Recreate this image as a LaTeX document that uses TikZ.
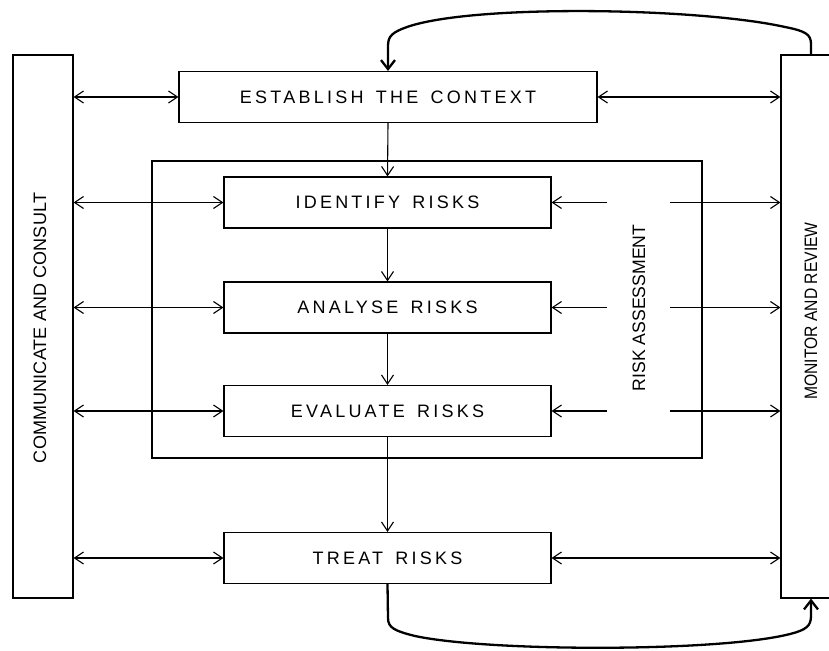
\documentclass[tikz,border=0pt]{standalone}
\usepackage{fontspec}
\usetikzlibrary{arrows.meta}
\newfontfamily\labfont{Liberation Sans}
\begin{document}
\begin{tikzpicture}[x=1pt,y=-1pt,
  boxstyle/.style={draw, line width=1.1pt, rectangle, inner sep=0pt, anchor=center},
  htext/.style={font=\labfont\fontsize{18}{21}\selectfont\addfontfeature{LetterSpace=18}},
  conn/.style={line width=1.1pt, -{Straight Barb[length=9pt,width=12pt]}},
  dconn/.style={line width=1.1pt, {Straight Barb[length=9pt,width=12pt]}-{Straight Barb[length=9pt,width=12pt]}},
  loopline/.style={line width=2.3pt, -{Straight Barb[length=9pt,width=14pt]}}
]
\useasboundingbox (0,0) rectangle (829,650);
% side boxes
\node[boxstyle, minimum width=60pt, minimum height=543pt] (L) at (43,326.5) {};
\node[boxstyle, minimum width=60pt, minimum height=543pt] (R) at (811,326.5) {};
\node[rotate=90, font=\labfont\fontsize{18}{21}\selectfont\addfontfeature{LetterSpace=0.8}] (Ltxt) at (40,328) {COMMUNICATE AND CONSULT};
\node[rotate=90, font=\labfont\fontsize{18}{21}\selectfont] (Rtxt) at (811,311) {\scalebox{0.87}[1]{MONITOR AND REVIEW}};
% risk assessment frame
\node[boxstyle, minimum width=550pt, minimum height=297pt] (ra) at (427,309.5) {};
\node[rotate=90, font=\labfont\fontsize{18}{21}\selectfont] (ratxt) at (639,308) {\scalebox{0.98}[1]{RISK ASSESSMENT}};
% process boxes
\node[boxstyle, htext, minimum width=418pt, minimum height=51pt] (est) at (388,97) {ESTABLISH\hspace{4pt} THE\hspace{4pt} CONTEXT};
\node[boxstyle, htext, minimum width=327pt, minimum height=51pt] (idn) at (387.5,202.5) {IDENTIFY\hspace{4pt} RISKS};
\node[boxstyle, htext, minimum width=327pt, minimum height=51pt] (ana) at (387.5,307.5) {ANALYSE\hspace{4pt} RISKS};
\node[boxstyle, htext, minimum width=327pt, minimum height=51pt] (eva) at (387.5,411) {EVALUATE\hspace{4pt} RISKS};
\node[boxstyle, htext, minimum width=327pt, minimum height=51pt] (tre) at (387.5,558) {TREAT\hspace{4pt} RISKS};
% vertical flow
\draw[conn] (est.south) -- (idn.north);
\draw[conn] (idn.south) -- (ana.north);
\draw[conn] (ana.south) -- (eva.north);
\draw[conn] (eva.south) -- (tre.north);
% left connections
\draw[dconn] (L.east |- est.west) -- (est.west);
\draw[dconn] (L.east |- idn.west) -- (idn.west);
\draw[dconn] (L.east |- ana.west) -- (ana.west);
\draw[dconn] (L.east |- eva.west) -- (eva.west);
\draw[dconn] (L.east |- tre.west) -- (tre.west);
% right connections
\draw[dconn] (est.east) -- (R.west |- est.east);
\draw[dconn] (tre.east) -- (R.west |- tre.east);
\coordinate (ia) at (607,202.5); \coordinate (ib) at (670,202.5);
\coordinate (aa) at (607,307.5); \coordinate (ab) at (670,307.5);
\coordinate (ea) at (607,411);   \coordinate (eb) at (670,411);
\draw[conn] (ia) -- (idn.east);
\draw[conn] (ib) -- (R.west |- ib);
\draw[conn] (aa) -- (ana.east);
\draw[conn] (ab) -- (R.west |- ab);
\draw[conn] (ea) -- (eva.east);
\draw[conn] (eb) -- (R.west |- eb);
% feedback loops
\draw[loopline] (R.north) -- (811,44) .. controls (811,34) and (805,31) .. (785,27)
  .. controls (700,8) and (480,4) .. (410,26)
  .. controls (392,32) and (388,36) .. (388,46) -- (est.north);
\draw[loopline] (tre.south) -- (388,618) .. controls (388,628) and (395,631) .. (415,636)
  .. controls (490,652) and (720,652) .. (790,634)
  .. controls (806,630) and (811,626) .. (811,616) -- (R.south);
\end{tikzpicture}
\end{document}
